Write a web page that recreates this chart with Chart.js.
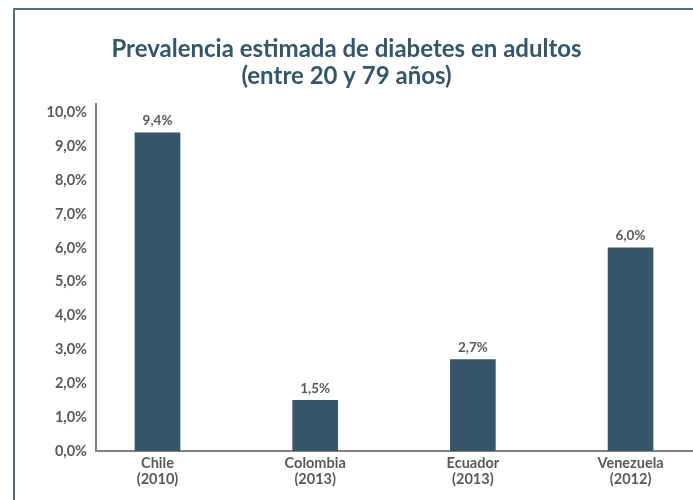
<!DOCTYPE html>
<html>
<head>
<meta charset="utf-8">
<script src="https://cdn.jsdelivr.net/npm/chart.js@4/dist/chart.umd.min.js"></script>
<style>
  body { margin: 0; background: #fff; }
  #wrap { position: relative; width: 693px; height: 500px; overflow: hidden; }
  #frame { position: absolute; left: 13px; top: 8px; width: 720px; height: 520px;
           border-left: 2px solid #546e80; border-top: 2px solid #546e80; }
  #chart { position: absolute; left: 0; top: 0; }
</style>
</head>
<body>
<div id="wrap">
  <div id="frame"></div>
  <canvas id="chart" width="693" height="500"></canvas>
</div>
<script>
// data
const countries = [['Chile', '(2010)'], ['Colombia', '(2013)'], ['Ecuador', '(2013)'], ['Venezuela', '(2012)']];
const prevalence = [9.4, 1.5, 2.7, 6.0];
const yTicks = [0, 1, 2, 3, 4, 5, 6, 7, 8, 9, 10];

const BAR = '#36566a';
const GREY = '#595959';
const AXIS = '#808080';
const FONT = 'Lato, "Open Sans", sans-serif';

const fmt = v => v.toFixed(1).replace('.', ',') + '%';

// value labels above the bars
const barLabels = {
  id: 'barLabels',
  afterDatasetsDraw(chart) {
    const ctx = chart.ctx;
    const meta = chart.getDatasetMeta(0);
    ctx.save();
    ctx.font = 'bold 13.5px ' + FONT;
    ctx.fillStyle = GREY;
    ctx.textAlign = 'center';
    ctx.textBaseline = 'middle';
    meta.data.forEach((bar, i) => {
      ctx.fillText(fmt(prevalence[i]), bar.x, bar.y - 12);
    });
    ctx.restore();
  }
};

new Chart(document.getElementById('chart'), {
  type: 'bar',
  data: {
    datasets: [{
      data: prevalence.map((v, i) => ({ x: i, y: v })),
      backgroundColor: BAR,
      barThickness: 45,
    }]
  },
  options: {
    responsive: false,
    animation: false,
    layout: { padding: 0 },
    plugins: {
      legend: { display: false },
      tooltip: { enabled: false },
      title: {
        display: true,
        text: ['Prevalencia estimada de diabetes en adultos', '(entre 20 y 79 años)'],
        color: '#34566b',
        font: { family: FONT, size: 24, weight: 'bold', lineHeight: 1.125 },
        padding: { top: 36, bottom: 14 },
      },
    },
    scales: {
      x: {
        type: 'linear',
        offset: false,
        min: -0.39,
        max: 3.396,
        grid: { display: false, drawTicks: false },
        border: { display: true, color: AXIS, width: 2 },
        afterBuildTicks: s => { s.ticks = countries.map((c, i) => ({ value: i })); },
        afterFit: s => { s.height = 49; },
        ticks: {
          color: GREY,
          padding: 4,
          maxRotation: 0,
          font: { family: FONT, size: 14.5, weight: 'bold', lineHeight: 1.1 },
          callback: v => countries[v],
        },
      },
      y: {
        min: 0,
        max: 10.25,
        grid: { display: false, drawTicks: false },
        border: { display: true, color: AXIS, width: 2 },
        afterBuildTicks: s => { s.ticks = yTicks.map(v => ({ value: v })); },
        afterFit: s => { s.width = 96; },
        ticks: {
          color: GREY,
          padding: 9,
          font: { family: FONT, size: 14.5, weight: 'bold' },
          callback: v => fmt(v),
        },
      },
    },
  },
  plugins: [barLabels],
});
</script>
</body>
</html>
